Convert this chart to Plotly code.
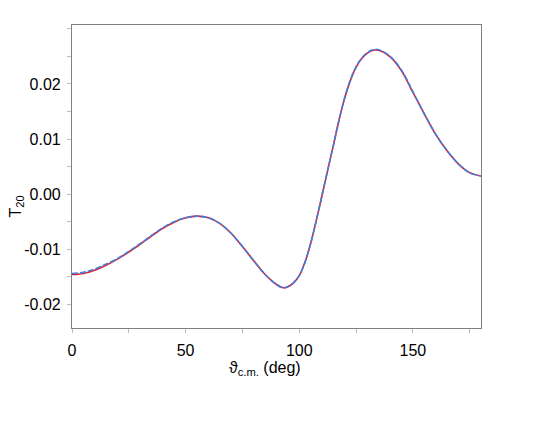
import plotly.graph_objects as go

# angle grid (deg)
theta = [0, 5, 10, 15, 20, 25, 30, 35, 40, 45, 50, 55, 60, 65, 70, 75, 80, 85, 90, 93,
         95, 97.5, 100, 102.5, 105, 107.5, 110, 112.5, 115, 117.5, 120, 122.5, 125, 127.5, 130, 132.5,
         135, 140, 145, 150, 155, 160, 165, 170, 175, 180]

# T20, red solid curve
t20_red = [-0.0146, -0.0144, -0.0138, -0.0129, -0.0118, -0.0105, -0.0091, -0.0076, -0.0062, -0.0051,
           -0.0043, -0.0040, -0.0043, -0.0053, -0.0071, -0.0095, -0.0121, -0.0146, -0.0164, -0.0170,
           -0.0168, -0.0161, -0.0148, -0.0124, -0.0090, -0.0048, -0.0003, 0.0043, 0.0088, 0.0134,
           0.0174, 0.0206, 0.0230, 0.0246, 0.0256, 0.0261,
           0.0261, 0.0249, 0.0224, 0.0185, 0.0146, 0.0109, 0.0079, 0.0055, 0.0039, 0.0033]

# T20, blue dashed curve
t20_blue = [-0.0144, -0.0142, -0.0136, -0.0127, -0.0117, -0.0104, -0.0090, -0.0075, -0.0061, -0.0050,
            -0.0043, -0.0040, -0.0043, -0.0053, -0.0071, -0.0095, -0.0121, -0.0146, -0.0164, -0.0170,
            -0.0168, -0.0161, -0.0148, -0.0124, -0.0090, -0.0048, -0.0003, 0.0043, 0.0088, 0.0134,
            0.0175, 0.0207, 0.0231, 0.0247, 0.0257, 0.0262,
            0.0262, 0.0250, 0.0225, 0.0186, 0.0146, 0.0109, 0.0079, 0.0055, 0.0039, 0.0033]

x_ticks = [0, 50, 100, 150]
x_labels = ["0", "50", "100", "150"]
y_ticks = [-0.02, -0.01, 0.0, 0.01, 0.02]
y_labels = ["-0.02", "-0.01", "0.00", "0.01", "0.02"]

fig = go.Figure()
fig.add_trace(go.Scatter(x=theta, y=t20_red, mode='lines', line=dict(color='#e0202a', width=1.6, shape='spline')))
fig.add_trace(go.Scatter(x=theta, y=t20_blue, mode='lines', line=dict(color='#3f7ee0', width=1.6, shape='spline', dash='6px,2px')))

axis_style = dict(showgrid=False, zeroline=False, showline=True, mirror=True, linecolor='#808080', linewidth=1.2,
                  ticks='outside', ticklen=4, tickcolor='#bbbbbb', tickfont=dict(size=16, color='black'))

fig.update_xaxes(range=[0, 180], tickvals=x_ticks, ticktext=x_labels, ticklabelstandoff=4,
                 minor=dict(dtick=25, tick0=0, ticks='outside', ticklen=4, tickcolor='#bbbbbb'), **axis_style)
fig.update_yaxes(range=[-0.0243, 0.0307], tickvals=y_ticks, ticktext=y_labels, ticklabelstandoff=3,
                 minor=dict(dtick=0.005, tick0=0, ticks='outside', ticklen=4, tickcolor='#bbbbbb'), **axis_style)

fig.add_annotation(text="ϑ<sub>c.m.</sub> (deg)", xref='paper', yref='paper', x=0.471, y=-0.135,
                   xanchor='center', yanchor='middle', showarrow=False, font=dict(size=16, color='black'))
fig.add_annotation(text="T<sub>20</sub>", xref='paper', yref='paper', x=-0.135, y=0.40, textangle=-90,
                   xanchor='center', yanchor='middle', showarrow=False, font=dict(size=16, color='black'))

# page body adds 8px, so margins are shifted to keep the box where it is in the reference
fig.update_layout(width=545, height=421, showlegend=False,
                  margin=dict(l=64, r=72, t=17, b=101),
                  paper_bgcolor='white', plot_bgcolor='white',
                  font=dict(family='Liberation Sans, Arial, sans-serif', color='black'))

fig.write_html("out.html")
